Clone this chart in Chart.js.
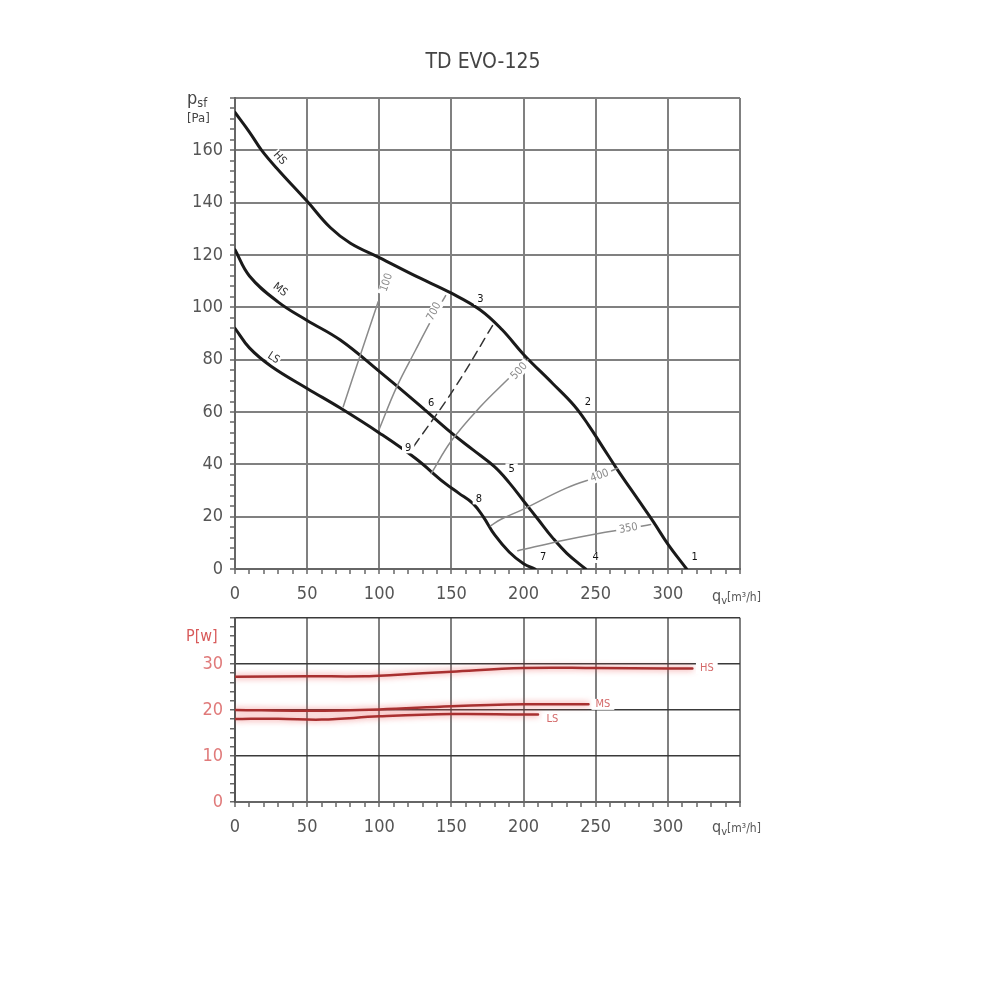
<!DOCTYPE html>
<html>
<head>
<meta charset="utf-8">
<title>TD EVO-125</title>
<script src="https://cdn.jsdelivr.net/npm/chart.js@4.4.1/dist/chart.umd.min.js"></script>
<style>
  body { margin: 0; background: #fff; width: 1000px; height: 1000px; position: relative; overflow: hidden;
         font-family: 'DejaVu Sans Condensed', 'Liberation Sans Narrow', 'Roboto', sans-serif; color: #555; }
  canvas { position: absolute; left: 0; }
  #pressure { top: 0; }
  #power { top: 600px; }
  .txt { position: absolute; white-space: nowrap; line-height: 1; }
  .txt sub { font-size: 0.7em; vertical-align: -0.25em; }
</style>
</head>
<body>
<canvas id="pressure" width="1000" height="610"></canvas>
<canvas id="power" width="1000" height="240"></canvas>

<div class="txt" style="left:383px; top:51px; width:200px; text-align:center; font-size:21px; color:#444;">TD EVO-125</div>
<div class="txt" style="left:187px; top:89px; font-size:18px; color:#444;">p<sub>sf</sub></div>
<div class="txt" style="left:187px; top:111px; font-size:13px; color:#444;">[Pa]</div>
<div class="txt" style="left:712px; top:588px; font-size:16px; color:#555;">q<sub>v</sub><span style="font-size:12px">[m³/h]</span></div>
<div class="txt" style="left:186px; top:628px; font-size:16px; color:#d85a5a;">P[w]</div>
<div class="txt" style="left:712px; top:819px; font-size:16px; color:#555;">q<sub>v</sub><span style="font-size:12px">[m³/h]</span></div>

<script>
// fan curves, static pressure [Pa] against air flow [m3/h]
var hsFlow = [0, 10, 18.5, 30, 50, 66, 80, 100, 125, 150, 170, 185, 200, 220, 235, 245, 255, 265, 280, 290, 300, 313];
var hsPressure = [174.5, 167, 160, 152.5, 140.5, 130.5, 124.5, 119, 112, 105.4, 99, 91.5, 82, 71, 62.5, 55, 46.5, 38, 26, 18, 9.5, 0];

var msFlow = [0, 10, 30, 50, 73, 100, 126, 150, 165, 180, 190, 200, 210, 220, 230, 243];
var msPressure = [122, 112, 102, 95, 87.5, 75.5, 63.5, 52, 45.5, 39, 33, 26, 19, 12, 6, 0];

var lsFlow = [0, 10, 25, 50, 73, 100, 125, 145, 155, 165, 172, 180, 190, 200, 208];
var lsPressure = [92, 84.5, 77.5, 69, 61.5, 52, 42.3, 33, 29, 25, 20, 13, 6.5, 2, 0];

// system curves
var s100Flow = [75, 87, 99.3];
var s100Pressure = [62, 82, 102.2];
var s700Flow = [100, 112, 125, 136, 146];
var s700Pressure = [53.5, 69.5, 83.5, 95, 104.5];
var sDashFlow = [124, 152, 179];
var sDashPressure = [47, 69, 93.5];
var s500Flow = [136, 150, 170, 190, 203];
var s500Pressure = [36.5, 49, 62, 73, 80];
var s400Flow = [177, 184.4, 200, 230, 253, 265];
var s400Pressure = [16.5, 19, 22.9, 31, 35.6, 38.5];
var s350Flow = [196, 228, 251, 273, 288];
var s350Pressure = [7, 11, 13.5, 15.5, 17];

// power input [W] against air flow
var pHsFlow = [0, 50, 90, 110, 150, 200, 250, 300, 317];
var pHsPower = [27.2, 27.3, 27.3, 27.6, 28.3, 29.1, 29.1, 29, 29];
var pMsFlow = [0, 50, 100, 150, 200, 245];
var pMsPower = [20, 19.8, 20.1, 20.8, 21.2, 21.2];
var pLsFlow = [0, 30, 60, 100, 150, 200, 210];
var pLsPower = [18, 18.1, 17.9, 18.6, 19.1, 19, 19];

// labels written on the curves
var topLabelText = ['HS', 'MS', 'LS', '1', '2', '3', '4', '5', '6', '7', '8', '9', '100', '700', '500', '400', '350'];
var topLabelFlow = [31, 31.2, 26.6, 318.6, 244.5, 170, 250, 191.7, 136, 213.5, 169, 120, 105, 138, 197, 252.7, 272.7];
var topLabelPressure = [157, 106.7, 80.6, 4.4, 63.7, 103, 4.4, 38.3, 63.5, 4.4, 26.8, 46.3, 109.5, 98.4, 75.6, 35.6, 15.5];

var powerLabelText = ['HS', 'MS', 'LS'];
var powerLabelFlow = [327, 255, 220];
var powerLabelPower = [29, 21.2, 17.9];

var fontFamily = "'DejaVu Sans Condensed', 'Liberation Sans Narrow', 'Roboto', sans-serif";
Chart.defaults.font.family = fontFamily;
Chart.defaults.animation = false;

function pts(xs, ys) {
  return xs.map(function(v, i) { return { x: v, y: ys[i] }; });
}

function curve(label, xs, ys, color, width, dash) {
  return {
    label: label,
    data: pts(xs, ys),
    borderColor: color,
    borderWidth: width,
    borderDash: dash || [],
    borderCapStyle: 'round',
    pointRadius: 0,
    fill: false,
    tension: 0.4
  };
}

// draws small texts at data positions, with a white box behind so grid lines break
function textPlugin(items) {
  return {
    id: 'curveText',
    afterDatasetsDraw: function(chart) {
      var ctx = chart.ctx;
      var xs = chart.scales.x, ys = chart.scales.y;
      items.forEach(function(it) {
        var px = xs.getPixelForValue(it.x);
        var py = ys.getPixelForValue(it.y);
        ctx.save();
        ctx.translate(px, py);
        ctx.rotate((it.angle || 0) * Math.PI / 180);
        ctx.font = it.size + 'px ' + fontFamily;
        var w = ctx.measureText(it.text).width;
        if (it.bg) {
          ctx.fillStyle = '#fff';
          ctx.fillRect(-w / 2 - it.pad, -it.size / 2, w + 2 * it.pad, it.size);
        }
        ctx.fillStyle = it.color;
        ctx.textAlign = 'center';
        ctx.textBaseline = 'middle';
        ctx.fillText(it.text, 0, 0);
        ctx.restore();
      });
    }
  };
}

var glow = {
  id: 'glow',
  beforeDatasetDraw: function(chart) {
    chart.ctx.save();
    chart.ctx.shadowColor = 'rgba(235, 80, 80, 0.8)';
    chart.ctx.shadowBlur = 6;
  },
  afterDatasetDraw: function(chart) {
    chart.ctx.restore();
  }
};

function flowAxis() {
  return {
    type: 'linear',
    min: 0,
    max: 350,
    afterFit: function(s) { s.height = s.chart.canvas.id === 'pressure' ? 41 : 38; },
    border: { display: true, color: '#666', width: 2 },
    grid: {
      color: function(c) { return c.tick.value % 50 === 0 ? '#808080' : 'rgba(0,0,0,0)'; },
      lineWidth: 2,
      tickLength: 5,
      tickColor: '#666',
      tickWidth: 1.5
    },
    ticks: {
      stepSize: 10,
      autoSkip: false,
      maxRotation: 0,
      padding: 10,
      color: '#555',
      font: { size: 18 },
      callback: function(v) { return (v % 50 === 0 && v <= 300) ? v : ''; }
    }
  };
}

// angles and styles of the curve labels
var topAngles = [48, 38, 33, 0, 0, 0, 0, 0, 0, 0, 0, 0, -71, -62, -48, -20, -10];
var topItems = topLabelText.map(function(t, i) {
  var isSpeed = i < 3, isSystem = i >= 12;
  return {
    text: t, x: topLabelFlow[i], y: topLabelPressure[i], angle: topAngles[i],
    size: 11, bg: true, pad: isSpeed ? 1 : 3,
    color: isSystem ? '#8a8a8a' : (isSpeed ? '#333' : '#111')
  };
});

var powerItems = powerLabelText.map(function(t, i) {
  return { text: t, x: powerLabelFlow[i], y: powerLabelPower[i], angle: 0, size: 11, bg: true, pad: 4, color: '#d46a6a' };
});

new Chart(document.getElementById('pressure'), {
  type: 'line',
  data: {
    datasets: [
      curve('100', s100Flow, s100Pressure, '#8a8a8a', 1.5),
      curve('700', s700Flow, s700Pressure, '#8a8a8a', 1.5),
      curve('500', s500Flow, s500Pressure, '#8a8a8a', 1.5),
      curve('400', s400Flow, s400Pressure, '#8a8a8a', 1.5),
      curve('350', s350Flow, s350Pressure, '#8a8a8a', 1.5),
      curve('dash', sDashFlow, sDashPressure, '#333', 1.5, [9, 6]),
      curve('HS', hsFlow, hsPressure, '#1a1a1a', 3),
      curve('MS', msFlow, msPressure, '#1a1a1a', 3),
      curve('LS', lsFlow, lsPressure, '#1a1a1a', 3)
    ]
  },
  options: {
    responsive: false,
    layout: { padding: { top: 98, right: 260, left: 0, bottom: 0 } },
    plugins: { legend: { display: false }, tooltip: { enabled: false } },
    scales: {
      x: flowAxis(),
      y: {
        min: 0,
        max: 180,
        afterFit: function(s) { s.width = 235; },
        border: { display: true, color: '#666', width: 2 },
        grid: {
          color: function(c) { return c.tick.value % 20 === 0 ? '#808080' : 'rgba(0,0,0,0)'; },
          lineWidth: 2,
          tickLength: 5,
          tickColor: '#666',
          tickWidth: 1.5
        },
        ticks: {
          stepSize: 4,
          autoSkip: false,
          padding: 7,
          color: '#555',
          font: { size: 18 },
          callback: function(v) { return (v % 20 === 0 && v <= 160) ? v : ''; }
        }
      }
    }
  },
  plugins: [textPlugin(topItems)]
});

new Chart(document.getElementById('power'), {
  type: 'line',
  data: {
    datasets: [
      curve('HS', pHsFlow, pHsPower, '#a83030', 2.5),
      curve('MS', pMsFlow, pMsPower, '#a83030', 2.5),
      curve('LS', pLsFlow, pLsPower, '#a83030', 2.5)
    ]
  },
  options: {
    responsive: false,
    layout: { padding: { top: 14, right: 260, left: 0, bottom: 0 } },
    plugins: { legend: { display: false }, tooltip: { enabled: false } },
    scales: {
      x: flowAxis(),
      y: {
        min: 0,
        max: 40,
        afterFit: function(s) { s.width = 235; },
        border: { display: true, color: '#555', width: 2 },
        grid: {
          color: function(c) { return c.tick.value % 10 === 0 ? '#3a3a3a' : 'rgba(0,0,0,0)'; },
          lineWidth: 1.5,
          tickLength: 5,
          tickColor: '#666',
          tickWidth: 1.5
        },
        ticks: {
          stepSize: 2,
          autoSkip: false,
          padding: 7,
          color: '#e07a7a',
          font: { size: 18 },
          callback: function(v) { return (v % 10 === 0 && v <= 30) ? v : ''; }
        }
      }
    }
  },
  plugins: [glow, textPlugin(powerItems)]
});
</script>
</body>
</html>
